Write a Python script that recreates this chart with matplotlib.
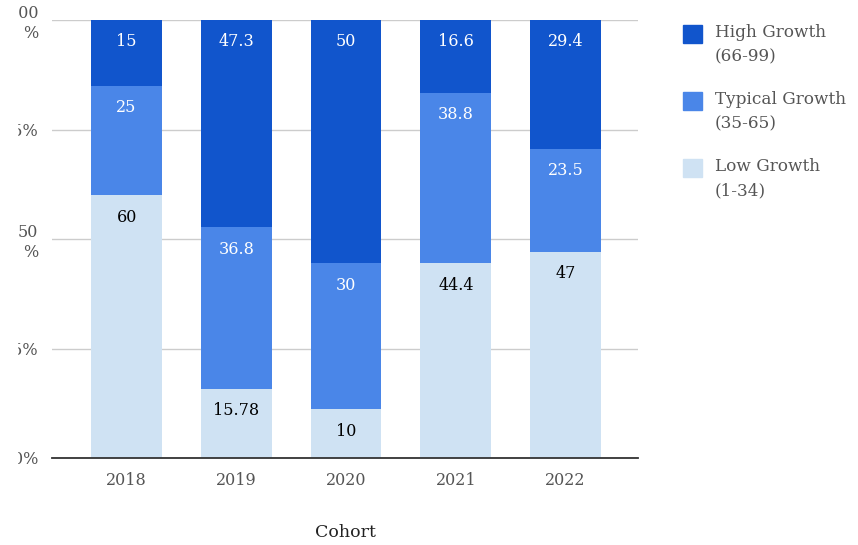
import numpy as np
import matplotlib.pyplot as plt
from matplotlib.patches import Rectangle

plt.rcParams['font.family'] = ['DejaVu Serif']

cohorts = ['2018', '2019', '2020', '2021', '2022']
low = [60, 15.78, 10, 44.4, 47]
typical = [25, 36.8, 30, 38.8, 23.5]
high = [15, 47.3, 50, 16.6, 29.4]

series = [
    ('Low Growth\n(1-34)', low, '#cfe2f3', 'black'),
    ('Typical Growth\n(35-65)', typical, '#4a86e8', 'white'),
    ('High Growth\n(66-99)', high, '#1155cc', 'white'),
]

totals = np.array(low) + np.array(typical) + np.array(high)

W, H = 858, 545
fig = plt.figure(figsize=(W / 100, H / 100), dpi=100)
ax = fig.add_axes([52 / W, 87 / H, 586 / W, 438 / H])

x = np.arange(len(cohorts))
bottom = np.zeros(len(cohorts))
for name, vals, color, tcolor in series:
    pct = np.array(vals) / totals * 100
    ax.bar(x, pct, 0.645, bottom=bottom, color=color, label=name, zorder=2)
    for xi, b, p, v in zip(x, bottom, pct, vals):
        ax.annotate(f'{v:g}', (xi, b + p), xytext=(0, -22), textcoords='offset pixels',
                    ha='center', va='center', color=tcolor, fontsize=11.5, zorder=3)
    bottom += pct

ax.set_xlim(-0.68, 4.66)
ax.set_ylim(0, 100)
ax.set_yticks([0, 25, 50, 75, 100])
ax.set_yticklabels(['0%', '25%', '50\n%', '75%', '100\n%'], color='#555555', fontsize=11.5,
                   linespacing=1.25)
ax.set_xticks(x)
ax.set_xticklabels(cohorts, color='#555555', fontsize=11.5)
ax.tick_params(length=0, pad=10)
ax.tick_params(axis='x', pad=10)
ax.grid(axis='y', color='#cccccc', linewidth=1, zorder=0)
for s in ['top', 'right', 'left']:
    ax.spines[s].set_visible(False)
ax.spines['bottom'].set_color('#333333')
ax.spines['bottom'].set_linewidth(1.3)
ax.spines['bottom'].set_zorder(4)
ax.set_xlabel('Cohort', fontsize=12.5, color='#222222', labelpad=25)

# legend, drawn by hand so each swatch sits beside the first line of its label
for i, (name, vals, color, tcolor) in enumerate(series[::-1]):
    top = 25 + i * 67
    fig.patches.append(Rectangle((683 / W, 1 - (top + 18) / H), 19 / W, 18 / H,
                                 transform=fig.transFigure, color=color))
    fig.text(715 / W, 1 - (top - 1) / H, name, ha='left', va='top', fontsize=12.2,
             color='#555555', linespacing=1.6)

# the original image is clipped at the left edge
fig.patches.append(Rectangle((0, 0), 17 / W, 1, transform=fig.transFigure,
                             color='white', zorder=10))

fig.savefig('out.png', dpi=100)
